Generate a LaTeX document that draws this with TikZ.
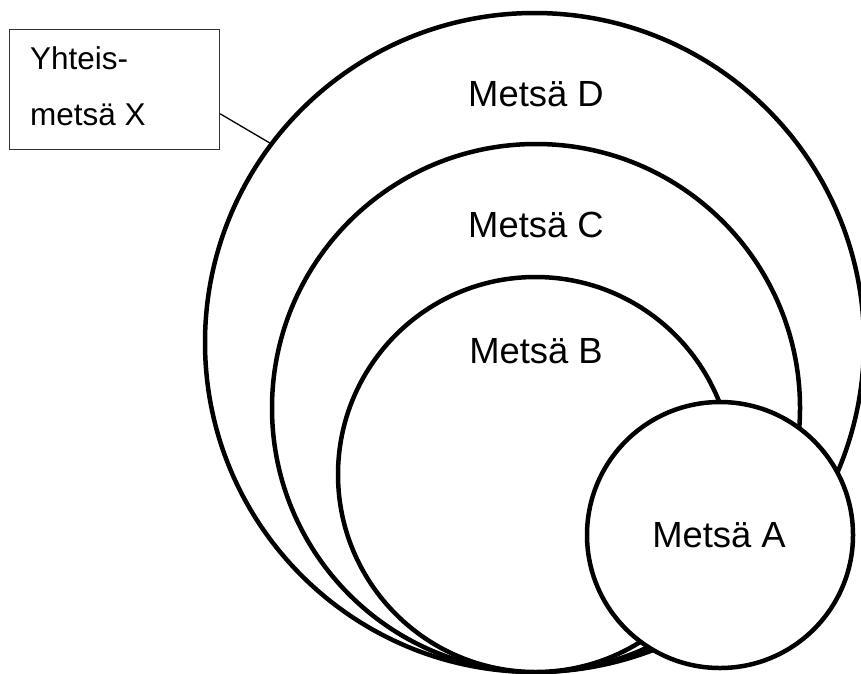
\documentclass[tikz,border=0pt]{standalone}
\usepackage{fontspec}
\setmainfont{Liberation Sans}
\usetikzlibrary{calc}
\begin{document}
\begin{tikzpicture}[x=1pt,y=-1pt,
  forest/.style={circle,draw=black,fill=white,line width=4.5pt,inner sep=0pt},
  forestlabel/.style={anchor=base,inner sep=0pt,font=\fontsize{36.4}{40}\selectfont},
  notebox/.style={draw=black!80,line width=1.1pt,fill=white,anchor=north west,inner sep=0pt},
  notetext/.style={anchor=north west,inner sep=0pt,align=left,font=\fontsize{31.5}{56}\selectfont}]
  \useasboundingbox (0,0) rectangle (861,673);
  % nested forests, outermost first
  \node[forest,minimum size=659pt] (D) at (534.5,342.5) {};
  \node[forest,minimum size=528pt] (C) at (536,408) {};
  \node[forest,minimum size=395pt] (B) at (535.5,474.5) {};
  \node[forest,minimum size=266pt] (A) at (720,535) {};
  % forest names
  \node[forestlabel] (labD) at (536,106) {Metsä D};
  \node[forestlabel] (labC) at (536,237) {Metsä C};
  \node[forestlabel] (labB) at (536,363) {Metsä B};
  \node[forestlabel] (labA) at (719,547) {Metsä A};
  % callout box for the joint forest
  \node[notebox,minimum width=210pt,minimum height=120pt] (box) at (9,29) {};
  \node[notetext] (boxtext) at (30,46) {Yhteis-\\metsä X};
  \coordinate (boxpt) at ($(box.north east)!0.7!(box.south east)$);
  \draw[line width=1.3pt] (boxpt) -- (D.143);
\end{tikzpicture}
\end{document}
